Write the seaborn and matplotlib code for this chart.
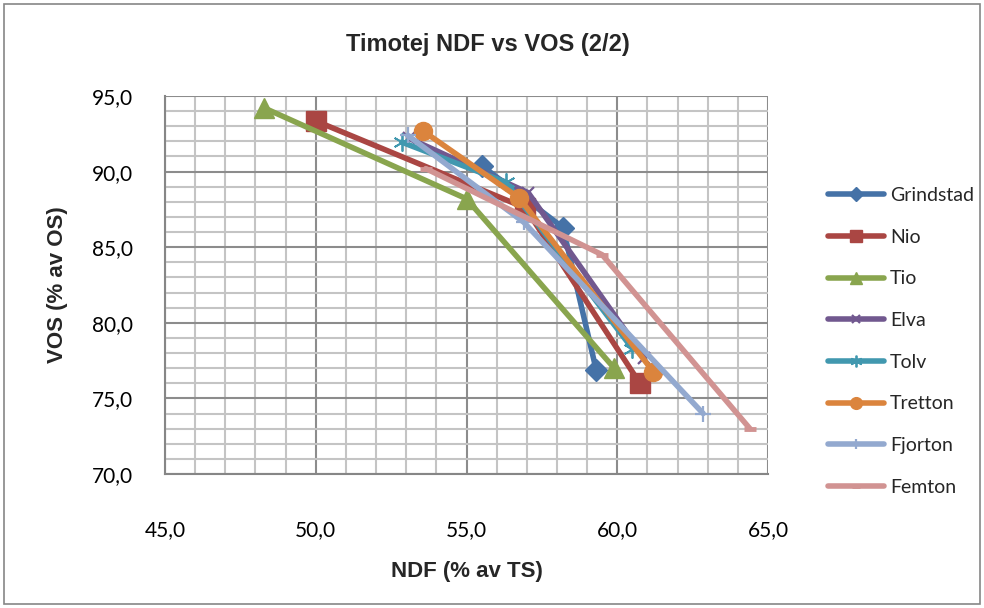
import matplotlib
matplotlib.use('Agg')
import matplotlib.pyplot as plt
from matplotlib.patches import Rectangle
from matplotlib.ticker import MultipleLocator, FuncFormatter
import seaborn as sns
import pandas as pd

# Data
names = ['Grindstad', 'Nio', 'Tio', 'Elva', 'Tolv', 'Tretton', 'Fjorton', 'Femton']
ndf = [
    [55.5, 58.2, 59.3],
    [50.0, 56.95, 60.75],
    [48.3, 55.0, 59.9],
    [53.1, 57.05, 60.9],
    [52.85, 56.3, 60.5],
    [53.55, 56.75, 61.2],
    [53.05, 56.9, 62.85],
    [53.65, 59.5, 64.4],
]
vos = [
    [90.4, 86.3, 76.9],
    [93.35, 87.6, 76.0],
    [94.2, 88.2, 77.0],
    [92.2, 88.6, 77.7],
    [91.95, 89.3, 78.3],
    [92.7, 88.25, 76.75],
    [92.4, 86.65, 74.0],
    [90.2, 84.5, 73.0],
]

colors = ['#4572A7', '#AA4643', '#89A54E', '#71588F',
          '#4198AF', '#DB843D', '#93A9CF', '#D19392']
markers = ['D', 's', '^', 'x', (6, 2, 0), 'o', '+', '_']
msizes = [11, 14, 14, 9, 13, 13, 11, 9]
mwidths = [1, 1, 1, 1.6, 1.3, 1, 1.6, 3.5]

sns.set_style('white')
plt.rcParams['font.family'] = ['Lato', 'DejaVu Sans']
bold_font = {'family': ['Liberation Sans', 'DejaVu Sans'], 'weight': 'bold'}

fig = plt.figure(figsize=(9.84, 6.08), dpi=100)
ax = fig.add_axes([165 / 984, 1 - 474 / 608, 603 / 984, 378 / 608])

for i, name in enumerate(names):
    df = pd.DataFrame({'x': ndf[i], 'y': vos[i]})
    sns.lineplot(data=df, x='x', y='y', ax=ax, sort=False, label=name,
                 color=colors[i], linewidth=4.0, marker=markers[i],
                 markersize=msizes[i], markeredgewidth=mwidths[i],
                 markeredgecolor=colors[i], markerfacecolor=colors[i], zorder=3)

ax.set_xlim(45, 65)
ax.set_ylim(70, 95)
ax.xaxis.set_major_locator(MultipleLocator(5))
ax.xaxis.set_minor_locator(MultipleLocator(1))
ax.yaxis.set_major_locator(MultipleLocator(5))
ax.yaxis.set_minor_locator(MultipleLocator(1))
fmt = FuncFormatter(lambda v, p: ('%.1f' % v).replace('.', ','))
ax.xaxis.set_major_formatter(fmt)
ax.yaxis.set_major_formatter(fmt)
ax.tick_params(axis='both', which='both', length=0, labelsize=15, colors='#000000')
ax.tick_params(axis='x', pad=33)
ax.tick_params(axis='y', pad=23)

ax.set_axisbelow(True)
ax.grid(which='major', color='#8C8C8C', linewidth=1.5)
ax.grid(which='minor', color='#C4C4C4', linewidth=1.5)
for side in ['top', 'right']:
    ax.spines[side].set_visible(False)
ax.spines['left'].set_color('#868686')
ax.spines['bottom'].set_color('#868686')
ax.spines['left'].set_linewidth(1.5)
ax.spines['bottom'].set_linewidth(1.5)

ax.set_xlabel('NDF (% av TS)', fontsize=16, fontdict=bold_font)
ax.set_ylabel('VOS (% av OS)', fontsize=16, fontdict=bold_font)
ax.xaxis.set_label_coords(0.5, (474 - 561) / 378)
ax.yaxis.set_label_coords((68 - 165) / 603, 0.5)

fig.text(488 / 984, 1 - 45 / 608, 'Timotej NDF vs VOS (2/2)', fontsize=17,
         fontdict=bold_font, ha='center', va='center')

ax.get_legend().remove()
handles, labels = ax.get_legend_handles_labels()
leg = fig.legend(handles, labels, loc='upper left',
                 bbox_to_anchor=(828 / 984, 1 - 187 / 608), frameon=False,
                 borderpad=0, borderaxespad=0, handlelength=2.9,
                 handletextpad=0.3, labelspacing=1.27, fontsize=14)
for h in leg.legend_handles:
    h.set_markersize(h.get_markersize() * 0.65)

# chart border
fig.patches.append(Rectangle((4 / 984, 4 / 608), 1 - 8 / 984, 1 - 8 / 608,
                             transform=fig.transFigure, fill=False,
                             edgecolor='#868686', linewidth=1.2))

fig.savefig('out.png', dpi=100)
